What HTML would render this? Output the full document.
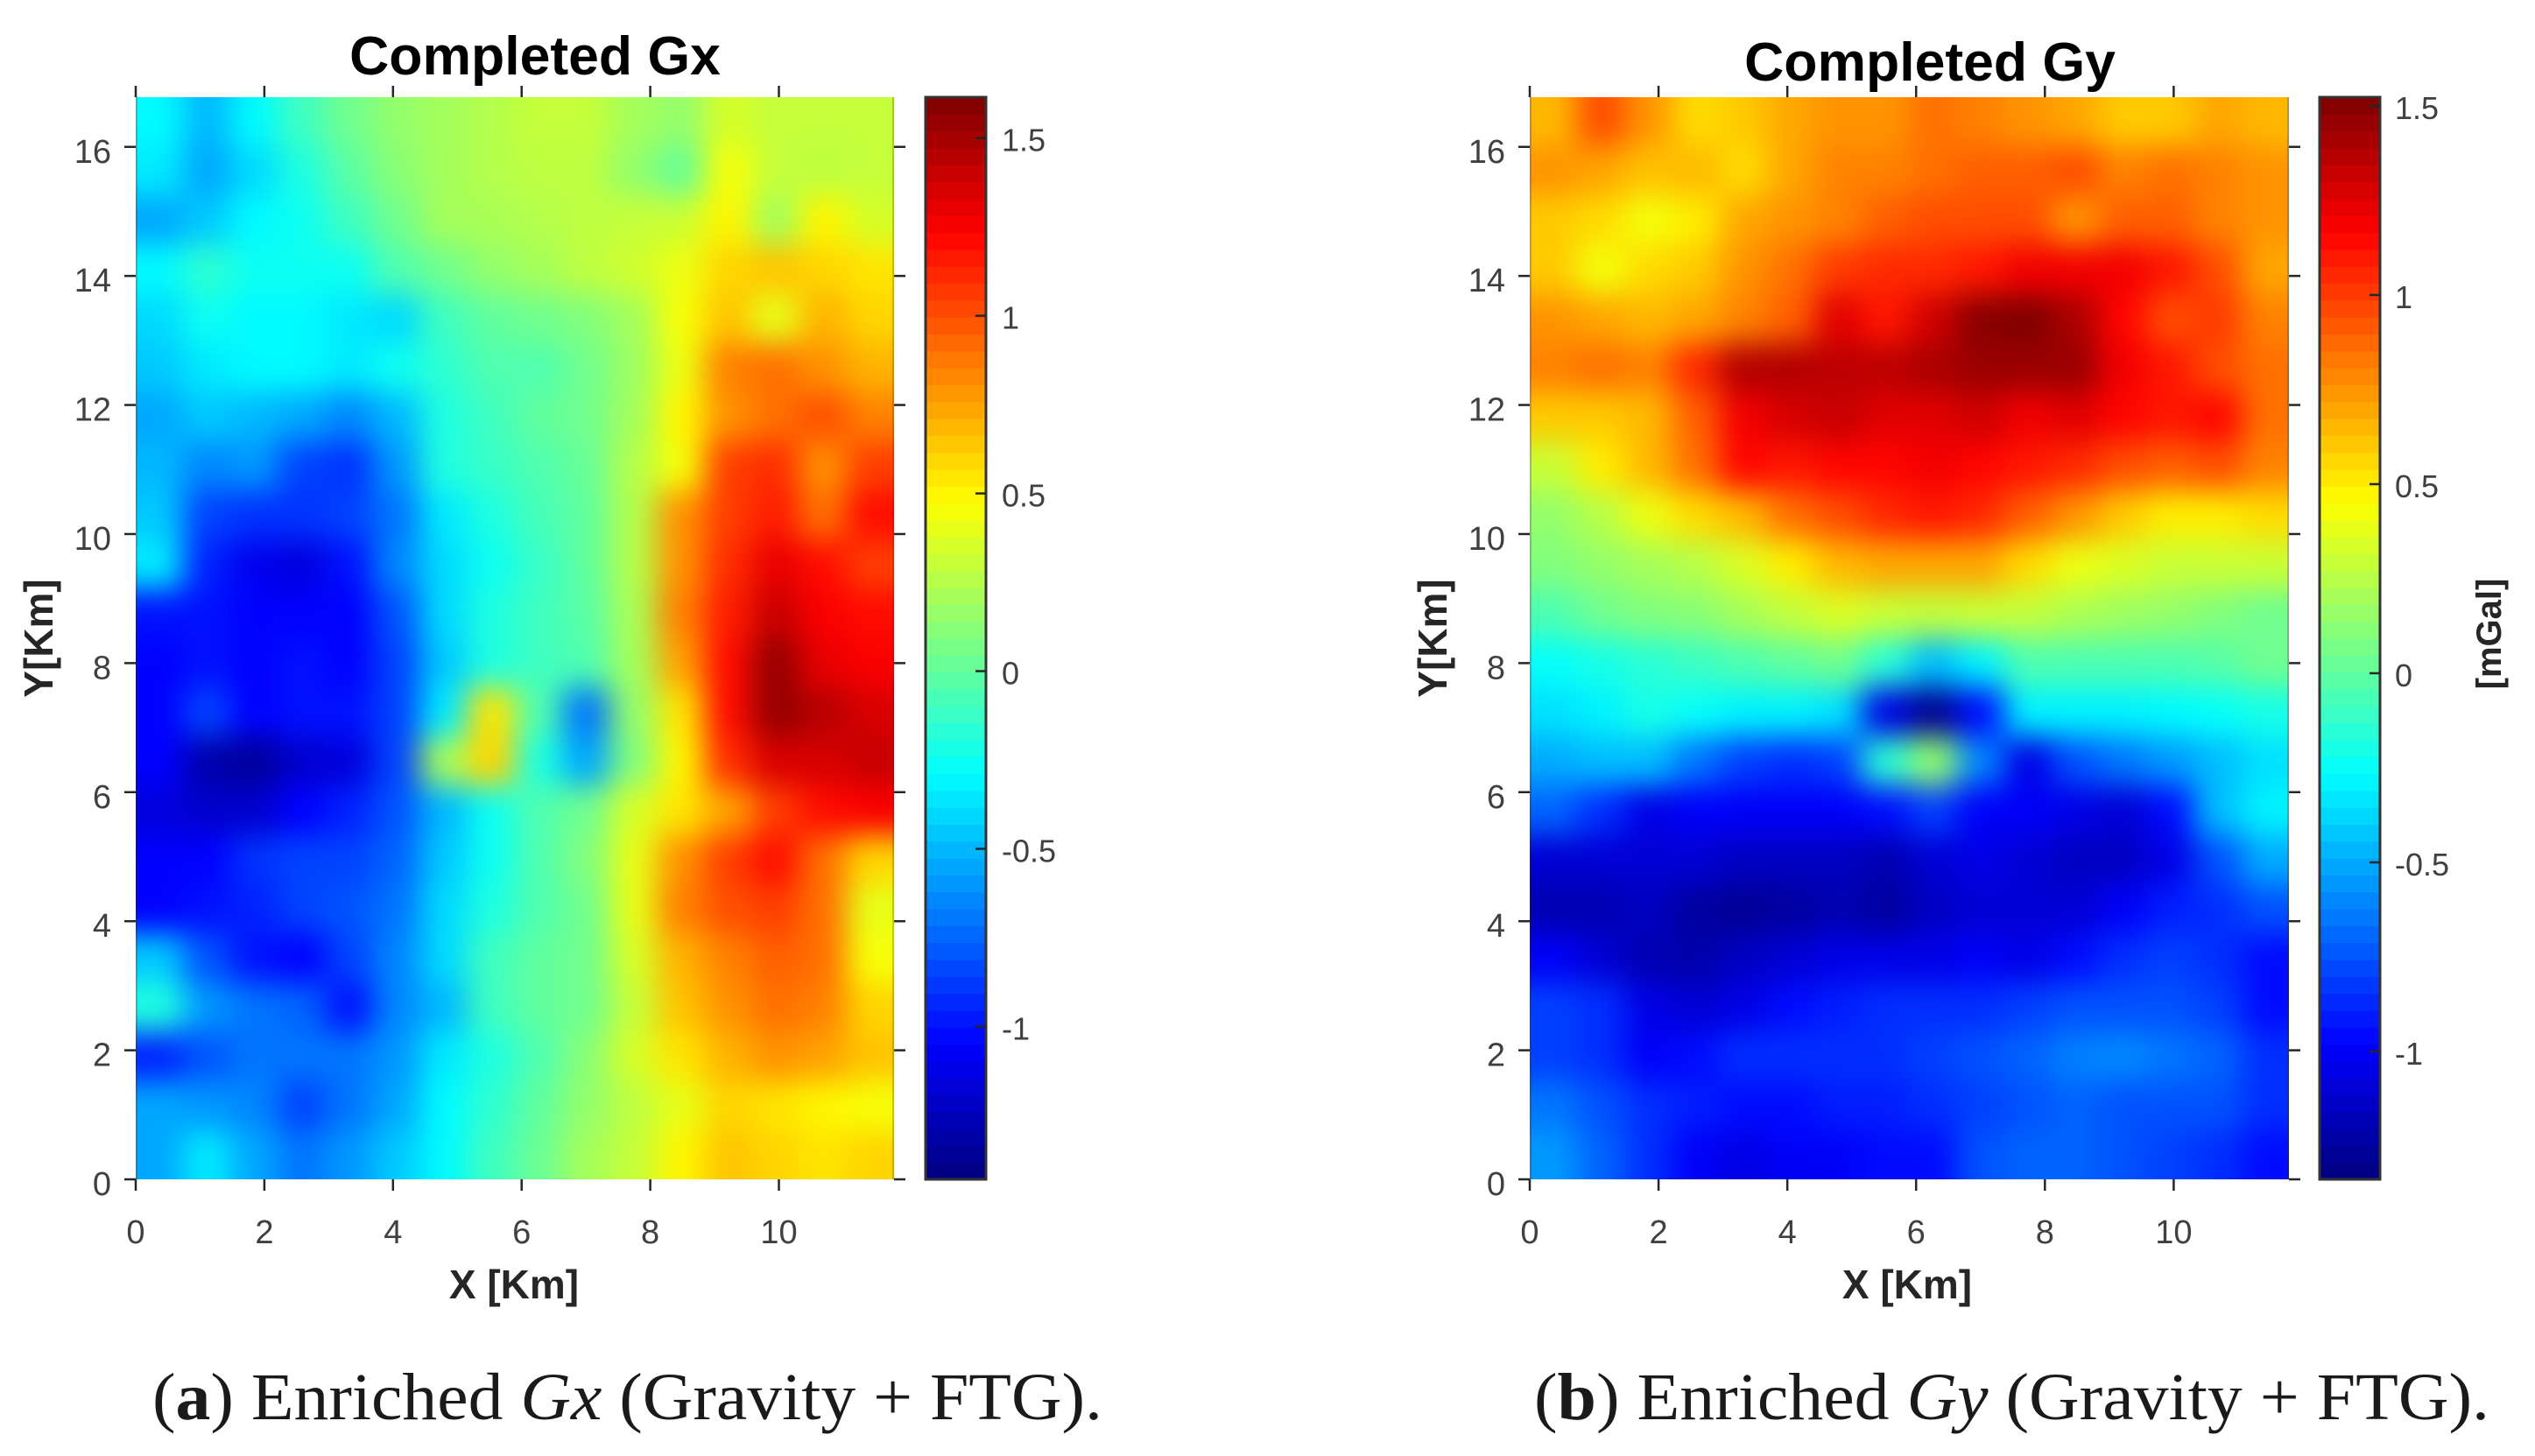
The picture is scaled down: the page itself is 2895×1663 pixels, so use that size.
<!DOCTYPE html>
<html lang="en">
<head>
<meta charset="utf-8">
<title>Completed Gx and Gy</title>
<style>
html,body{margin:0;padding:0;background:#fff;width:2895px;height:1663px;overflow:hidden}
svg{display:block}
text{font-family:"Liberation Sans",Arial,sans-serif}
.title{font-size:62.5px;font-weight:700;fill:#000;text-anchor:middle}
.axis-label{font-size:46px;font-weight:700;fill:#262626;text-anchor:middle}
.caption{font-family:"Liberation Serif",serif;font-size:76px;fill:#1a1a1a}
.tick{font-size:38px;fill:#404040}
.cb-tick{font-size:36px;fill:#404040}
</style>
</head>
<body>
<svg id="figure" xmlns="http://www.w3.org/2000/svg" width="2895" height="1663" viewBox="0 0 2895 1663">
  <defs>
    <filter id="smooth" filterUnits="userSpaceOnUse" x="0" y="0" width="2895" height="1663" color-interpolation-filters="sRGB">
      <feGaussianBlur stdDeviation="17"/>
    </filter>
    <clipPath id="clip-a"><rect x="155" y="111" width="866" height="1236"/></clipPath>
    <clipPath id="clip-b"><rect x="1747" y="111" width="867" height="1236"/></clipPath>
  </defs>

  <g id="panel-a"></g>
  <g id="panel-b"></g>

  <text class="title" x="611" y="85">Completed Gx</text>
  <text class="title" x="2204" y="92">Completed Gy</text>

  <text class="axis-label" x="587" y="1483">X [Km]</text>
  <text class="axis-label" x="2178" y="1483">X [Km]</text>
  <text class="axis-label" transform="translate(60 729) rotate(-90)">Y[Km]</text>
  <text class="axis-label" transform="translate(1652 729) rotate(-90)">Y[Km]</text>
  <text class="axis-label" style="font-size:40px" transform="translate(2856 724) rotate(-90)">[mGal]</text>

  <text class="caption" x="174" y="1621" textLength="1085" lengthAdjust="spacingAndGlyphs">(<tspan font-weight="700">a</tspan>) Enriched <tspan font-style="italic">Gx</tspan> (Gravity + FTG).</text>
  <text class="caption" x="1752" y="1621" textLength="1091" lengthAdjust="spacingAndGlyphs">(<tspan font-weight="700">b</tspan>) Enriched <tspan font-style="italic">Gy</tspan> (Gravity + FTG).</text>
</svg>

<script>
const xTicks = [0, 2, 4, 6, 8, 10];
const yTicks = [0, 2, 4, 6, 8, 10, 12, 14, 16];
const gxBarTicks = [-1, -0.5, 0, 0.5, 1, 1.5];
const gyBarTicks = [-1, -0.5, 0, 0.5, 1, 1.5];
const xDomain = [0, 11.79];
const yDomain = [0, 16.77];
const gxRange = [-1.43, 1.615];
const gyRange = [-1.338, 1.523];

const gxValues = [
[-.3,-.5,-.3,-.1,.05,.15,.2,.25,.3,.3,.2,.15,.35,.3,.3,.3],
[-.35,-.55,-.4,-.2,-.02,.12,.2,.25,.28,.28,.15,.02,.45,.3,.28,.3],
[-.55,-.45,-.3,-.25,-.1,.05,.2,.22,.25,.28,.3,.32,.5,.2,.5,.35],
[-.3,-.15,-.25,-.25,-.25,-.05,.05,.15,.2,.28,.33,.42,.6,.65,.6,.55],
[-.4,-.25,-.3,-.3,-.35,-.4,-.1,0,.05,.1,.2,.45,.65,.4,.7,.6],
[-.45,-.35,-.3,-.3,-.35,-.25,-.15,-.05,-.05,.05,.18,.42,.85,.9,.8,.7],
[-.55,-.45,-.5,-.55,-.65,-.5,-.2,-.1,0,.05,.2,.5,.8,.9,1,.85],
[-.5,-.65,-.6,-.85,-.9,-.6,-.2,-.12,-.05,.02,.25,.45,1.05,1.1,.8,1.05],
[-.45,-.85,-.9,-.9,-.85,-.7,-.35,-.2,-.08,0,.25,.8,1.05,1.15,.9,1.2],
[-.35,-.95,-1.1,-1.15,-1,-.65,-.4,-.25,-.12,0,.25,.8,1.1,1.3,1.2,1.05],
[-1,-1,-1.05,-1.05,-1.05,-.8,-.4,-.2,-.1,-.02,.22,.85,1.15,1.4,1.25,1.2],
[-1.05,-1,-1.05,-1,-1.05,-.85,-.45,-.2,-.1,-.05,.2,.75,1.2,1.55,1.3,1.25],
[-1.05,-.85,-1.05,-1,-1,-.85,-.35,.55,-.05,-.7,.15,.55,1.2,1.55,1.45,1.35],
[-1.05,-1.3,-1.35,-1.2,-1.15,-.85,.2,.6,-.2,-.55,.1,.5,1.1,1.35,1.35,1.4],
[-1.15,-1.2,-1.2,-1.05,-.95,-.8,-.5,-.25,-.05,.05,.35,.55,.75,1.05,1.2,1.25],
[-1.05,-1.05,-.9,-.85,-.85,-.75,-.45,-.25,-.05,.1,.4,.8,1.05,1.2,.9,.6],
[-1.05,-1,-.95,-.85,-.8,-.7,-.4,-.2,-.05,.05,.4,.85,1,1.05,.9,.4],
[-.45,-.8,-1,-1.05,-.85,-.65,-.4,-.1,0,.05,.35,.7,.85,.95,.9,.45],
[-.2,-.6,-.7,-.75,-1,-.65,-.5,-.1,0,.05,.3,.65,.8,.9,.85,.6],
[-.95,-.8,-.7,-.7,-.7,-.6,-.35,-.2,-.05,.12,.35,.55,.7,.8,.75,.65],
[-.55,-.6,-.65,-.85,-.7,-.55,-.3,-.15,0,.15,.28,.4,.6,.55,.5,.45],
[-.55,-.35,-.55,-.7,-.6,-.45,-.3,-.1,.03,.2,.3,.5,.65,.6,.55,.6]
];

const gyValues = [
[.65,.95,.75,.55,.6,.7,.75,.75,.85,.8,.75,.7,.6,.6,.7,.65],
[.75,.7,.62,.65,.55,.7,.8,.8,.85,.9,.9,.95,.8,.85,.8,.75],
[.6,.55,.42,.5,.7,.75,.8,.9,.95,.95,.95,.75,.9,.9,.8,.75],
[.6,.42,.55,.6,.75,.85,1,1.05,1.05,1.1,1.2,1.2,1.2,1.1,.95,.7],
[.75,.7,.65,.7,.8,.9,1.25,1.1,1.3,1.5,1.55,1.4,1.15,.95,1,.8],
[.8,.85,.8,1.05,1.38,1.38,1.35,1.35,1.4,1.45,1.45,1.45,1.2,1.1,.95,.85],
[.6,.6,.65,.9,1.2,1.28,1.32,1.25,1.25,1.3,1.2,1.25,1.15,1.1,1.15,.85],
[.3,.5,.65,.85,1.15,1.1,1.15,1.15,1.2,1.15,1.1,1.05,.95,.9,.95,.8],
[.15,.25,.4,.55,.65,.85,.95,1.05,1.1,1.05,.9,.75,.6,.5,.5,.55],
[.1,.15,.2,.25,.35,.5,.65,.7,.7,.7,.55,.4,.35,.3,.3,.3],
[-.05,.05,.1,.12,.2,.28,.35,.3,.28,.3,.28,.22,.18,.15,.1,.05],
[-.25,-.2,-.15,-.1,-.05,0,.05,-.15,-.45,-.3,-.05,-.05,-.05,-.05,-.02,.05],
[-.35,-.3,-.2,-.25,-.3,-.3,-.35,-1.05,-1.3,-.95,-.3,-.3,-.3,-.28,-.25,-.2],
[-.5,-.45,-.45,-.65,-.8,-.85,-.8,-.15,.15,-.6,-1.05,-.75,-.65,-.55,-.45,-.35],
[-.7,-.85,-1.05,-1,-1,-1,-1,-.95,-.8,-1,-1,-1.05,-1.1,-.95,-.45,-.3],
[-1.1,-1.1,-1.1,-1.1,-1.15,-1.15,-1.15,-1.2,-1.1,-1.05,-1.1,-1.15,-1.15,-1.05,-.75,-.5],
[-1.2,-1.2,-1.15,-1.25,-1.28,-1.25,-1.2,-1.25,-1.15,-1.1,-1.1,-1.1,-1,-.9,-.85,-.75],
[-1,-1.1,-1.2,-1.22,-1.15,-1.1,-1.05,-1.05,-1.05,-1,-1.05,-.95,-.85,-.8,-.85,-.95],
[-.8,-.85,-1.05,-1.1,-1.05,-.95,-.9,-.85,-.85,-.85,-.8,-.75,-.75,-.75,-.8,-.95],
[-.8,-.85,-1,-.95,-.85,-.85,-.85,-.85,-.8,-.75,-.7,-.62,-.6,-.65,-.7,-.85],
[-.65,-.75,-.85,-.9,-.95,-.95,-.9,-.9,-.85,-.8,-.75,-.7,-.75,-.75,-.75,-.85],
[-.55,-.7,-.85,-1,-1.05,-1,-1,-.95,-.95,-.75,-.7,-.7,-.75,-.8,-.85,-.95]
];

const SVG_NS = 'http://www.w3.org/2000/svg';

function make(tag, attrs, parent) {
  const el = document.createElementNS(SVG_NS, tag);
  for (const k in attrs) el.setAttribute(k, attrs[k]);
  parent.appendChild(el);
  return el;
}

function jet(t) {
  t = Math.max(0, Math.min(1, t));
  const ch = function (c) {
    return Math.round(255 * Math.max(0, Math.min(1, 1.5 - Math.abs(4 * t - c))));
  };
  return 'rgb(' + ch(3) + ',' + ch(2) + ',' + ch(1) + ')';
}

function drawPanel(cfg) {
  const root = document.getElementById(cfg.rootId);
  const xS = function (v) { return cfg.left + (v - xDomain[0]) / (xDomain[1] - xDomain[0]) * (cfg.right - cfg.left); };
  const yS = function (v) { return cfg.bottom - (v - yDomain[0]) / (yDomain[1] - yDomain[0]) * (cfg.bottom - cfg.top); };
  const colour = function (v) { return jet((v - cfg.range[0]) / (cfg.range[1] - cfg.range[0])); };

  const clip = make('g', { 'clip-path': 'url(#' + cfg.clipId + ')' }, root);
  
  
  const blurred = make('g', { filter: 'url(#smooth)' }, clip);

  const rows = cfg.values.length;
  const cols = cfg.values[0].length;
  const dx = (xDomain[1] - xDomain[0]) / cols;
  const dy = (yDomain[1] - yDomain[0]) / rows;
  const bleed = 90;
  cfg.values.forEach(function (row, r) {
    row.forEach(function (v, c) {
      let x0 = xS(c * dx), x1 = xS((c + 1) * dx);
      let y0 = yS(yDomain[1] - r * dy), y1 = yS(yDomain[1] - (r + 1) * dy);
      if (c === 0) x0 -= bleed;
      if (c === cols - 1) x1 += bleed;
      if (r === 0) y0 -= bleed;
      if (r === rows - 1) y1 += bleed;
      const cell = make('rect', { x: x0, y: y0, width: x1 - x0 + 1, height: y1 - y0 + 1, fill: colour(v) }, blurred);
      
      
    });
  });

  const edgeLeft = make('line', { x1: cfg.left + 1, x2: cfg.left + 1, y1: cfg.top, y2: cfg.bottom, stroke: '#262626', 'stroke-opacity': .25, 'stroke-width': 2 }, root);
  
  
  const edgeRight = make('line', { x1: cfg.right - 1, x2: cfg.right - 1, y1: cfg.top, y2: cfg.bottom, stroke: '#262626', 'stroke-opacity': .25, 'stroke-width': 2 }, root);
  
  

  xTicks.forEach(function (t) {
    const x = xS(t);
    const bottomTick = make('line', { x1: x, x2: x, y1: cfg.bottom, y2: cfg.bottom + 13, stroke: '#262626', 'stroke-width': 2.5 }, root);
    
    
    const topTick = make('line', { x1: x, x2: x, y1: cfg.top, y2: cfg.top - 13, stroke: '#262626', 'stroke-width': 2.5 }, root);
    
    
    const label = make('text', { x: x, y: 1420, class: 'tick', 'text-anchor': 'middle' }, root);
    
    
    label.textContent = String(t);
  });

  yTicks.forEach(function (t) {
    const y = yS(t);
    const leftTick = make('line', { x1: cfg.left, x2: cfg.left - 13, y1: y, y2: y, stroke: '#262626', 'stroke-width': 2.5 }, root);
    
    
    const rightTick = make('line', { x1: cfg.right, x2: cfg.right + 13, y1: y, y2: y, stroke: '#262626', 'stroke-width': 2.5 }, root);
    
    
    const label = make('text', { x: cfg.left - 28, y: y + 18, class: 'tick', 'text-anchor': 'end' }, root);
    
    
    label.textContent = String(t);
  });

  const bar = make('g', {}, root);
  
  
  const levels = 64;
  const barY = function (v) { return cfg.bottom - (v - cfg.range[0]) / (cfg.range[1] - cfg.range[0]) * (cfg.bottom - cfg.top); };
  for (let i = 0; i < levels; i++) {
    const v0 = cfg.range[0] + (cfg.range[1] - cfg.range[0]) * i / levels;
    const v1 = cfg.range[0] + (cfg.range[1] - cfg.range[0]) * (i + 1) / levels;
    const band = make('rect', { x: cfg.barLeft, width: cfg.barRight - cfg.barLeft, y: barY(v1), height: barY(v0) - barY(v1) + .6, fill: jet((i + .5) / levels) }, bar);
    
    
  }
  const frame = make('rect', { x: cfg.barLeft, y: cfg.top, width: cfg.barRight - cfg.barLeft, height: cfg.bottom - cfg.top, fill: 'none', stroke: '#333', 'stroke-width': 3 }, bar);
  
  

  cfg.barTicks.forEach(function (t) {
    const y = barY(t);
    const mark = make('line', { x1: cfg.barRight, x2: cfg.barRight - 12, y1: y, y2: y, stroke: '#262626', 'stroke-width': 2.5 }, bar);
    
    
    const label = make('text', { x: cfg.barLabelX, y: y + 15, class: 'cb-tick' }, bar);
    
    
    label.textContent = String(t);
  });
}

drawPanel({ rootId: 'panel-a', clipId: 'clip-a', left: 155, right: 1021, top: 111, bottom: 1347,
  barLeft: 1057, barRight: 1126, barLabelX: 1144, values: gxValues, range: gxRange, barTicks: gxBarTicks });
drawPanel({ rootId: 'panel-b', clipId: 'clip-b', left: 1747, right: 2614, top: 111, bottom: 1347,
  barLeft: 2649, barRight: 2718, barLabelX: 2735, values: gyValues, range: gyRange, barTicks: gyBarTicks });
</script>
</body>
</html>
